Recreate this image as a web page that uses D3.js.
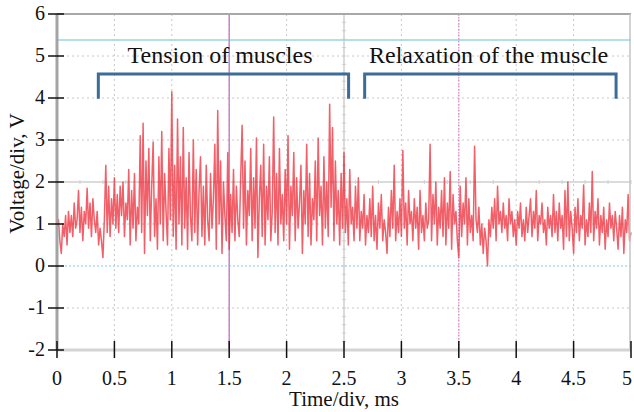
<!DOCTYPE html>
<html>
<head>
<meta charset="utf-8">
<script src="https://cdn.jsdelivr.net/npm/d3@7"></script>
<style>
  body { margin: 0; background: #fff; }
  text { font-family: "Liberation Serif", "Times New Roman", serif; }
</style>
</head>
<body>
<div id="chart"></div>
<script>
// sample step of the trace, ms
const dt = 0.0125;

// EMG trace, volts
const voltage = [
  0.9, 1.1, 0.6, 0.3, 1.0, 0.7, 1.2, 0.5, 1.3, 0.8,
  1.2, 0.7, 1.5, 0.9, 1.1, 1.8, 0.8, 1.4, 0.6, 1.3,
  1.0, 1.85, 0.9, 1.5, 0.7, 1.6, 1.1, 0.8, 1.3, 0.5,
  0.9, 0.6, 0.2, 1.1, 2.4, 0.8, 1.9, 0.7, 1.6, 1.0,
  2.1, 0.9, 1.7, 0.8, 1.9, 1.2, 2.0, 0.7, 1.5, 1.1,
  2.3, 0.5, 1.8, 0.9, 2.2, 0.6, 1.4, 1.0, 3.1, 0.8,
  3.4, 0.3, 2.5, 1.2, 2.8, 0.6, 1.9, 2.95, 0.7, 1.6,
  0.4, 2.6, 1.0, 3.2, 0.6, 2.2, 1.3, 0.5, 2.8, 1.1,
  4.15, 0.7, 2.4, 0.4, 3.5, 1.0, 2.6, 0.5, 3.3, 0.9,
  2.1, 0.4, 2.7, 1.2, 0.6, 3.0, 0.8, 2.3, 0.5, 1.8,
  2.6, 0.7, 1.9, 0.5, 2.4, 1.1, 0.6, 2.2, 0.9, 1.6,
  2.9, 0.4, 3.7, 1.0, 2.5, 0.3, 2.0, 1.2, 0.6, 2.7,
  0.4, 1.7, 0.8, 2.3, 0.6, 1.9, 1.1, 0.7, 2.1, 3.35,
  0.9, 2.5, 0.5, 1.8, 1.2, 2.8, 0.6, 2.1, 0.9, 3.05,
  0.2, 1.6, 2.4, 0.7, 2.9, 0.5, 1.9, 1.1, 2.6, 0.6,
  1.3, 3.55, 0.8, 2.2, 0.5, 2.8, 1.0, 1.7, 0.6, 2.3,
  1.0, 3.1, 0.4, 1.9, 1.2, 2.7, 0.6, 2.1, 0.9, 1.5,
  2.4, 0.3, 1.8, 1.0, 2.9, 0.7, 2.2, 0.5, 1.6, 1.1,
  2.5, 0.6, 3.05, 1.2, 1.9, 0.5, 2.6, 0.9, 2.0, 0.7,
  3.85, 1.4, 3.3, 0.6, 2.5, 1.0, 1.8, 0.5, 2.2, 0.9,
  2.7, 0.8, 1.6, 0.5, 2.3, 1.0, 1.4, 0.6, 1.9, 0.9,
  2.1, 0.6, 1.3, 0.9, 1.7, 0.5, 1.2, 0.8, 1.6, 0.7,
  1.9, 0.6, 1.2, 0.4, 1.5, 0.9, 1.7, 0.6, 1.1, 0.8,
  0.3, 1.4, 0.7, 1.8, 0.9, 2.4, 0.6, 1.3, 0.8, 1.6,
  0.7, 2.75, 0.9, 1.5, 0.5, 1.8, 1.0, 1.3, 0.6, 1.6,
  0.9, 1.4, 0.4, 1.8, 0.8, 1.2, 0.6, 1.5, 0.9, 1.1,
  2.9, 0.6, 1.7, 1.0, 2.0, 0.5, 1.4, 0.9, 1.8, 0.7,
  2.1, 0.5, 1.5, 0.9, 2.25, 0.4, 1.7, 1.0, 1.3, 0.6,
  0.2, 1.9, 0.7, 1.5, 1.0, 2.1, 0.5, 1.6, 0.8, 1.2,
  0.6, 2.85, 1.1, 0.8, 1.4, 0.5, 1.0, 0.3, 0.9, 0.6,
  0.0, 1.1, 0.7, 1.4, 0.9, 1.6, 0.6, 1.9, 1.0, 1.3,
  0.8, 1.5, 0.9, 1.2, 0.6, 1.6, 1.0, 1.3, 0.7, 1.1,
  0.5, 1.3, 0.9, 1.5, 0.7, 1.1, 0.6, 1.4, 0.8, 1.2,
  1.6, 0.7, 1.3, 0.9, 1.8, 0.6, 1.2, 1.0, 1.5, 0.8,
  1.1, 0.5, 1.4, 0.9, 1.2, 0.7, 1.7, 0.8, 1.3, 0.6,
  1.5, 0.9, 1.2, 0.4, 1.8, 0.7, 2.0, 0.6, 1.3, 0.9,
  0.3, 1.4, 0.8, 1.6, 0.6, 1.2, 0.9, 1.93, 0.5, 1.1,
  0.7, 1.5, 0.8, 2.25, 0.6, 1.3, 0.9, 1.6, 0.5, 1.2,
  0.8, 1.4, 0.4, 1.1, 0.7, 1.5, 0.9, 1.2, 0.6, 1.3,
  0.9, 0.4, 1.2, 0.7, 1.4, 0.3, 1.1, 0.8, 1.7, 0.6,
  0.8
];

const xTicks = [0, 0.5, 1, 1.5, 2, 2.5, 3, 3.5, 4, 4.5, 5];
const yTicks = [-2, -1, 0, 1, 2, 3, 4, 5, 6];

// cursors / reference lines
const triggerLevel = 5.38;
const cursorA = 1.5;
const cursorB = 3.5;

// phase brackets
const phases = [
  { label: "Tension of muscles", x0: 0.36, x1: 2.54, labelX: 1.42 },
  { label: "Relaxation of the muscle", x0: 2.68, x1: 4.87, labelX: 3.76 },
];
const bracketTop = 4.57;
const bracketBottom = 3.98;

const width = 634, height = 412;
const margin = { top: 14, right: 3, bottom: 62, left: 57 };

const svg = d3.select("#chart").append("svg")
  .attr("width", width)
  .attr("height", height);

const x = d3.scaleLinear().domain([0, 5]).range([margin.left, width - margin.right]);
const y = d3.scaleLinear().domain([-2, 6]).range([height - margin.bottom, margin.top]);

// dotted grid
const grid = svg.append("g").attr("class", "grid");
grid.selectAll(".vgrid")
  .data(xTicks.filter(d => d > 0 && d < 5 && d !== 2.5))
  .join("line")
  .attr("x1", d => x(d)).attr("x2", d => x(d))
  .attr("y1", y(6)).attr("y2", y(-2))
  .attr("stroke", "#c8c8c8")
  .attr("stroke-dasharray", "2,3");
grid.selectAll(".hgrid")
  .data(yTicks.filter(d => d > -2 && d < 6 && d !== 2 && d !== 0))
  .join("line")
  .attr("x1", x(0)).attr("x2", x(5))
  .attr("y1", d => y(d)).attr("y2", d => y(d))
  .attr("stroke", "#c8c8c8")
  .attr("stroke-dasharray", "2,3");

// centre cross of the scope screen, solid with small marks
grid.append("line")
  .attr("x1", x(2.5)).attr("x2", x(2.5))
  .attr("y1", y(6)).attr("y2", y(-2))
  .attr("stroke", "#cfcfcf").attr("stroke-width", 1.5);
grid.append("line")
  .attr("x1", x(0)).attr("x2", x(5))
  .attr("y1", y(2)).attr("y2", y(2))
  .attr("stroke", "#cfcfcf").attr("stroke-width", 1.5);
grid.selectAll(".vminor")
  .data(d3.range(-2, 6.001, 0.2))
  .join("line")
  .attr("x1", x(2.5) - 2).attr("x2", x(2.5) + 2)
  .attr("y1", d => y(d)).attr("y2", d => y(d))
  .attr("stroke", "#cfcfcf");
grid.selectAll(".hminor")
  .data(d3.range(0, 5.001, 0.2))
  .join("line")
  .attr("x1", d => x(d)).attr("x2", d => x(d))
  .attr("y1", y(2) - 2).attr("y2", y(2) + 2)
  .attr("stroke", "#cfcfcf");

// ground level, dotted cyan
svg.append("line")
  .attr("x1", x(0)).attr("x2", x(5))
  .attr("y1", y(0)).attr("y2", y(0))
  .attr("stroke", "#7ccfe4")
  .attr("stroke-dasharray", "2,2");

// trigger level
svg.append("line")
  .attr("x1", x(0)).attr("x2", x(5))
  .attr("y1", y(triggerLevel)).attr("y2", y(triggerLevel))
  .attr("stroke", "#92d8e6")
  .attr("stroke-width", 1.5);

// time cursors
svg.append("line")
  .attr("x1", x(cursorA)).attr("x2", x(cursorA))
  .attr("y1", y(6)).attr("y2", y(-2))
  .attr("stroke", "#c983c9")
  .attr("stroke-width", 1.5);
svg.append("line")
  .attr("x1", x(cursorB)).attr("x2", x(cursorB))
  .attr("y1", y(6)).attr("y2", y(-2))
  .attr("stroke", "#e06cbc")
  .attr("stroke-dasharray", "1.5,1.5");

// the trace
const line = d3.line()
  .x((d, i) => x(i * dt))
  .y(d => y(d));

svg.append("path")
  .datum(voltage)
  .attr("fill", "none")
  .attr("stroke", "#ec2a36")
  .attr("stroke-opacity", 0.75)
  .attr("stroke-width", 1.5)
  .attr("stroke-linejoin", "round")
  .attr("d", line);

// frame
svg.append("line")
  .attr("x1", x(0)).attr("x2", x(5))
  .attr("y1", y(6)).attr("y2", y(6))
  .attr("stroke", "#a8a8a8").attr("stroke-width", 2);
svg.append("line")
  .attr("x1", x(5) - 1).attr("x2", x(5) - 1)
  .attr("y1", y(6)).attr("y2", y(-2))
  .attr("stroke", "#c4c4c4").attr("stroke-width", 1.5);
svg.append("line")
  .attr("x1", x(0)).attr("x2", x(5))
  .attr("y1", y(-2)).attr("y2", y(-2))
  .attr("stroke", "#d4d4d4").attr("stroke-width", 3);
svg.append("line")
  .attr("x1", x(0)).attr("x2", x(0))
  .attr("y1", y(6)).attr("y2", y(-2))
  .attr("stroke", "#a4a4a4").attr("stroke-width", 3);

// ticks that cross the axes
svg.selectAll(".ytick")
  .data(yTicks)
  .join("line")
  .attr("x1", x(0) - 9).attr("x2", x(0) + 7)
  .attr("y1", d => y(d)).attr("y2", d => y(d))
  .attr("stroke", "#111").attr("stroke-width", 1.5);
svg.selectAll(".xtick")
  .data(xTicks)
  .join("line")
  .attr("x1", d => x(d)).attr("x2", d => x(d))
  .attr("y1", y(-2) - 9).attr("y2", y(-2) + 8)
  .attr("stroke", "#111").attr("stroke-width", 1.5);

// tick labels
svg.selectAll(".ylabel")
  .data(yTicks)
  .join("text")
  .attr("x", x(0) - 12)
  .attr("y", d => y(d) + 6)
  .attr("text-anchor", "end")
  .attr("font-size", 20)
  .attr("fill", "#111")
  .text(d => d);
svg.selectAll(".xlabel")
  .data(xTicks)
  .join("text")
  .attr("x", d => d === 5 ? x(d) - 4 : x(d))
  .attr("y", y(-2) + 35)
  .attr("text-anchor", "middle")
  .attr("font-size", 20)
  .attr("fill", "#111")
  .text(d => d);

// axis titles
svg.append("text")
  .attr("x", (x(0) + x(5)) / 2)
  .attr("y", height - 6)
  .attr("text-anchor", "middle")
  .attr("font-size", 21)
  .attr("fill", "#111")
  .text("Time/div, ms");
svg.append("text")
  .attr("transform", `translate(24, ${y(2.2)}) rotate(-90)`)
  .attr("text-anchor", "middle")
  .attr("font-size", 21)
  .attr("fill", "#111")
  .text("Voltage/div, V");

// phase brackets and their labels
const ph = svg.append("g").attr("class", "phases");
ph.selectAll("path")
  .data(phases)
  .join("path")
  .attr("fill", "none")
  .attr("stroke", "#3b6d98")
  .attr("stroke-width", 3)
  .attr("d", d => `M${x(d.x0)},${y(bracketBottom)}V${y(bracketTop)}H${x(d.x1)}V${y(bracketBottom)}`);
ph.selectAll("text")
  .data(phases)
  .join("text")
  .attr("x", d => x(d.labelX))
  .attr("y", y(4.83))
  .attr("text-anchor", "middle")
  .attr("font-size", 24)
  .attr("fill", "#111")
  .text(d => d.label);
</script>
</body>
</html>
